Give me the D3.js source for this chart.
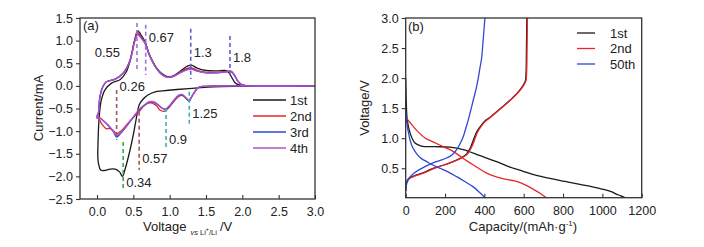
<!DOCTYPE html>
<html><head><meta charset="utf-8">
<script src="https://cdn.jsdelivr.net/npm/d3@7"></script>
<style>
body{margin:0;background:#fff;}
text{font-family:"Liberation Sans",Arial,sans-serif;fill:#222;}
</style></head>
<body><svg id="c" width="704" height="247"></svg>
<script>
// ---------- Panel (a) CV data: [voltage, current] ----------
const cv1Cathodic = [[3.0,0],[2.5,-0.005],[2.0,-0.01],[1.6,-0.02],[1.35,-0.05],[1.1,-0.08],[0.9,-0.11],[0.8,-0.13],[0.7,-0.2],[0.63,-0.3],[0.58,-0.42],[0.55,-0.64],[0.5,-1.08],[0.45,-1.45],[0.39,-1.82],[0.35,-2.0],[0.31,-1.9],[0.25,-1.84],[0.18,-1.84],[0.1,-1.87],[0.05,-1.86],[0.025,-1.75],[0.012,-1.6]];
const cv1Anodic = [[0.012,-1.6],[0.015,-1.2],[0.022,-0.9],[0.035,-0.6],[0.06,-0.31],[0.11,-0.09],[0.2,0.06],[0.32,0.14],[0.4,0.3],[0.46,0.58],[0.52,1.02],[0.56,1.22],[0.6,1.14],[0.66,0.98],[0.72,0.7],[0.82,0.4],[0.9,0.26],[0.98,0.2],[1.05,0.22],[1.15,0.33],[1.25,0.44],[1.3,0.46],[1.37,0.4],[1.5,0.34],[1.65,0.33],[1.76,0.34],[1.8,0.32],[1.85,0.2],[1.9,0.07],[1.96,0.02],[2.1,0.0],[3.0,0.0]];

const cv2Cathodic = [[3.0,0],[2.0,0],[1.5,-0.01],[1.4,-0.03],[1.35,-0.12],[1.3,-0.25],[1.26,-0.32],[1.22,-0.27],[1.17,-0.21],[1.12,-0.24],[1.06,-0.34],[1.0,-0.46],[0.93,-0.56],[0.87,-0.54],[0.82,-0.44],[0.76,-0.38],[0.7,-0.38],[0.64,-0.45],[0.59,-0.55],[0.56,-0.6],[0.5,-0.7],[0.43,-0.82],[0.36,-0.95],[0.31,-1.02],[0.27,-1.06],[0.22,-0.98],[0.17,-0.94],[0.13,-0.95],[0.065,-0.84],[0.02,-0.7],[0.0,-0.68]];
const cv2Anodic = [[0.0,-0.68],[0.02,-0.58],[0.04,-0.24],[0.08,-0.02],[0.13,0.09],[0.25,0.15],[0.36,0.28],[0.45,0.55],[0.52,1.02],[0.56,1.19],[0.6,1.1],[0.66,0.96],[0.72,0.68],[0.82,0.38],[0.9,0.24],[0.98,0.19],[1.05,0.21],[1.15,0.31],[1.25,0.39],[1.3,0.4],[1.37,0.35],[1.5,0.3],[1.65,0.3],[1.78,0.32],[1.84,0.33],[1.89,0.24],[1.94,0.1],[1.99,0.03],[2.08,0.0],[3.0,0.0]];

const cv3Cathodic = [[3.0,0],[2.0,0],[1.5,-0.01],[1.4,-0.03],[1.35,-0.12],[1.3,-0.25],[1.27,-0.34],[1.23,-0.28],[1.17,-0.2],[1.12,-0.22],[1.06,-0.32],[1.0,-0.44],[0.95,-0.52],[0.9,-0.5],[0.84,-0.42],[0.78,-0.36],[0.72,-0.36],[0.66,-0.42],[0.6,-0.5],[0.57,-0.55],[0.52,-0.65],[0.45,-0.8],[0.38,-0.95],[0.32,-1.06],[0.27,-1.13],[0.22,-1.0],[0.15,-0.87],[0.08,-0.76],[0.03,-0.7],[0.0,-0.7]];
const cv3Anodic = [[0.0,-0.7],[0.02,-0.6],[0.04,-0.24],[0.08,-0.02],[0.13,0.09],[0.25,0.15],[0.36,0.28],[0.45,0.54],[0.52,1.0],[0.56,1.15],[0.6,1.08],[0.66,0.95],[0.72,0.68],[0.82,0.38],[0.9,0.24],[0.98,0.19],[1.05,0.21],[1.15,0.3],[1.25,0.37],[1.3,0.38],[1.37,0.33],[1.5,0.29],[1.65,0.29],[1.78,0.31],[1.84,0.32],[1.89,0.24],[1.94,0.1],[1.99,0.03],[2.08,0.0],[3.0,0.0]];

const cv4Cathodic = [[3.0,0],[2.0,0],[1.5,-0.01],[1.4,-0.03],[1.35,-0.11],[1.3,-0.24],[1.27,-0.32],[1.23,-0.27],[1.17,-0.19],[1.12,-0.21],[1.06,-0.31],[1.0,-0.43],[0.95,-0.5],[0.9,-0.49],[0.84,-0.41],[0.78,-0.35],[0.72,-0.35],[0.66,-0.41],[0.6,-0.49],[0.57,-0.54],[0.52,-0.64],[0.45,-0.79],[0.38,-0.94],[0.32,-1.04],[0.27,-1.1],[0.22,-0.99],[0.15,-0.86],[0.08,-0.76],[0.03,-0.7],[0.0,-0.72]];
const cv4Anodic = [[0.0,-0.72],[0.02,-0.62],[0.04,-0.25],[0.08,-0.02],[0.13,0.09],[0.25,0.15],[0.36,0.28],[0.45,0.53],[0.52,0.98],[0.56,1.13],[0.6,1.07],[0.66,0.94],[0.72,0.68],[0.82,0.38],[0.9,0.24],[0.98,0.19],[1.05,0.21],[1.15,0.29],[1.25,0.36],[1.3,0.37],[1.37,0.33],[1.5,0.29],[1.65,0.29],[1.78,0.31],[1.84,0.32],[1.89,0.24],[1.94,0.1],[1.99,0.03],[2.08,0.0],[3.0,0.0]];

const cvLabels = ["1st","2nd","3rd","4th"];
const cvColors = ["#1a1a1a","#e8262a","#2b48d6","#b050c8"];
const cvXTicks = [0,0.5,1.0,1.5,2.0,2.5,3.0];
const cvYTicks = [-2.5,-2.0,-1.5,-1.0,-0.5,0,0.5,1.0,1.5];

// peak annotations: voltage, dashed line current extent, label current, side
const peakV      = [0.55, 0.67, 1.29, 1.83, 0.27, 0.58, 0.36, 0.95, 1.27];
const peakText   = ["0.55","0.67","1.3","1.8","0.26","0.57","0.34","0.9","1.25"];
const peakTop    = [1.39, 1.35, 1.26, 1.1, -0.09, -0.57, -1.24, -0.49, -0.13];
const peakBottom = [0.31, 0.24, 0.15, 0.2, -1.19, -1.86, -2.3, -1.41, -0.86];
const peakLabelI = [0.73, 1.08, 0.73, 0.62, -0.02, -1.61, -2.14, -1.19, -0.62];
const peakColor  = ["#9a74d6","#9a74d6","#5a62cc","#5a62cc","#a4585a","#a4585a","#3aa552","#3ab2b2","#3ab2b2"];
const peakSide   = ["left","right","right","right","right","right","right","right","right"];

// ---------- Panel (b) charge/discharge: [capacity, voltage] ----------
const d1Discharge = [[0,2.0],[3,1.6],[8,1.3],[22,1.09],[47,0.92],[80,0.87],[150,0.86],[225,0.85],[292,0.81],[378,0.71],[462,0.61],[530,0.52],[597,0.45],[665,0.38],[733,0.33],[810,0.28],[886,0.23],[950,0.19],[1003,0.15],[1045,0.11],[1071,0.07],[1095,0.04],[1114,0.01]];
const d1Charge = [[0,0.12],[5,0.28],[20,0.34],[56,0.39],[100,0.44],[139,0.5],[190,0.55],[241,0.61],[280,0.67],[310,0.74],[330,0.85],[344,0.97],[360,1.1],[378,1.19],[400,1.28],[429,1.35],[480,1.49],[530,1.63],[570,1.76],[597,1.88],[608,1.95],[612,2.1],[614,2.5],[616,3.0]];
const d2Discharge = [[0,1.35],[5,1.33],[20,1.27],[56,1.13],[100,1.0],[139,0.94],[190,0.86],[241,0.78],[285,0.68],[327,0.59],[370,0.5],[412,0.42],[450,0.37],[480,0.34],[520,0.31],[564,0.28],[610,0.22],[649,0.15],[685,0.08],[715,0.01]];
const d2Charge = [[0,0.12],[5,0.27],[20,0.33],[56,0.38],[100,0.43],[139,0.49],[190,0.55],[241,0.61],[285,0.67],[315,0.74],[335,0.85],[350,0.97],[365,1.1],[382,1.19],[405,1.28],[432,1.35],[482,1.49],[532,1.63],[572,1.76],[600,1.88],[611,1.95],[615,2.1],[617,2.5],[619,3.0]];
const d50Discharge = [[0,1.45],[3,1.35],[8,1.2],[15,1.08],[22,0.97],[35,0.85],[56,0.74],[80,0.66],[107,0.61],[140,0.55],[175,0.5],[215,0.44],[259,0.36],[300,0.28],[344,0.19],[375,0.1],[403,0.01]];
const d50Charge = [[0,0.12],[5,0.24],[20,0.35],[56,0.45],[100,0.53],[139,0.59],[175,0.63],[208,0.67],[235,0.72],[259,0.81],[278,0.92],[293,1.03],[306,1.17],[318,1.3],[332,1.48],[344,1.64],[358,1.82],[369,2.0],[378,2.18],[386,2.33],[393,2.6],[398,2.8],[403,3.0]];

const gcdLabels = ["1st","2nd","50th"];
const gcdColors = ["#1a1a1a","#e8262a","#2b48d6"];
const gcdXTicks = [0,200,400,600,800,1000,1200];
const gcdYTicks = [0.5,1.0,1.5,2.0,2.5,3.0];

// ---------- drawing ----------
const svg = d3.select("#c");
const axisColor = "#333";

function frame(g, x, y, xTicks, yTicks, fmtX, fmtY){
  const [x0,x1] = x.range(), [y0,y1] = y.range();
  const ax = g.append("g").attr("transform",`translate(0,${y0})`)
    .call(d3.axisBottom(x).tickValues(xTicks).tickFormat(fmtX).tickSizeInner(-4).tickSizeOuter(0).tickPadding(8));
  const ay = g.append("g").attr("transform",`translate(${x0},0)`)
    .call(d3.axisLeft(y).tickValues(yTicks).tickFormat(fmtY).tickSizeInner(4).tickSizeOuter(0).tickPadding(3));
  [ax,ay].forEach(a=>{
    a.selectAll("path,line").attr("stroke",axisColor).attr("stroke-width",1.1);
    a.selectAll("text").attr("font-size",12.5).attr("fill","#222").attr("font-family","Liberation Sans, Arial, sans-serif");
    a.select(".domain").remove();
  });
  g.append("rect").attr("x",x0).attr("y",y1).attr("width",x1-x0).attr("height",y0-y1)
    .attr("fill","none").attr("stroke",axisColor).attr("stroke-width",1.3);
}

// Panel (a)
const xa = d3.scaleLinear().domain([-0.234,3.0]).range([80,315]);
const ya = d3.scaleLinear().domain([-2.5,1.5]).range([199,18]);
const ga = svg.append("g");
svg.append("clipPath").attr("id","clipA").append("rect").attr("x",80).attr("y",18).attr("width",235).attr("height",181);
const lineA = d3.line().x(d=>xa(d[0])).y(d=>ya(d[1])).curve(d3.curveCatmullRom.alpha(0.5));
const cycles = [cv1Cathodic.concat(cv1Anodic.slice(1)), cv2Cathodic.concat(cv2Anodic.slice(1)),
                cv3Cathodic.concat(cv3Anodic.slice(1)), cv4Cathodic.concat(cv4Anodic.slice(1))];
const pa = ga.append("g").attr("clip-path","url(#clipA)");
[0,1,2,3].forEach(i=>{
  pa.append("path").attr("d",lineA(cycles[i])).attr("fill","none")
    .attr("stroke",cvColors[i]).attr("stroke-width",1.3).attr("stroke-linejoin","round");
});
// dashed peak markers
peakV.forEach((v,i)=>{
  ga.append("line").attr("x1",xa(v)).attr("x2",xa(v)).attr("y1",ya(peakTop[i])).attr("y2",ya(peakBottom[i]))
    .attr("stroke",peakColor[i]).attr("stroke-width",1.6).attr("stroke-dasharray","4,3");
  const left = peakSide[i]==="left";
  ga.append("text").attr("x",left? xa(v)-17 : xa(v)+3).attr("y",ya(peakLabelI[i])+4.5)
    .attr("text-anchor",left?"end":"start").attr("font-size",13).text(peakText[i]);
});
frame(ga, xa, ya, cvXTicks, cvYTicks, d3.format(".1f"), d3.format(".1f"));
ga.append("text").attr("x",83).attr("y",30).attr("font-size",13).text("(a)");
// legend a
cvLabels.forEach((l,i)=>{
  const yy = 100 + i*16;
  ga.append("line").attr("x1",253).attr("x2",286).attr("y1",yy).attr("y2",yy).attr("stroke",cvColors[i]).attr("stroke-width",1.3);
  ga.append("text").attr("x",290).attr("y",yy+4.5).attr("font-size",13).text(l);
});
// axis titles a
ga.append("text").attr("transform","translate(43,108) rotate(-90)").attr("text-anchor","middle").attr("font-size",13).text("Current/mA");
const xt = ga.append("text").attr("x",143).attr("y",231).attr("font-size",13).attr("fill","#222");
xt.append("tspan").text("Voltage");
xt.append("tspan").attr("font-size",7.5).attr("dx",4).attr("dy",4).attr("font-style","italic").text("vs");
xt.append("tspan").attr("font-size",7.5).text(" Li");
xt.append("tspan").attr("font-size",5.5).attr("dy",-4).text("+");
xt.append("tspan").attr("font-size",7.5).attr("dy",4).text("/Li");
xt.append("tspan").attr("font-size",13).attr("dx",3).attr("dy",-4).text("/V");

// Panel (b)
const xb = d3.scaleLinear().domain([0,1200]).range([405.7,641.7]);
const yb = d3.scaleLinear().domain([0.01,3.0]).range([197.7,18]);
const gb = svg.append("g");
svg.append("clipPath").attr("id","clipB").append("rect").attr("x",405.7).attr("y",18).attr("width",236).attr("height",179.7);
const lineB = d3.line().x(d=>xb(d[0])).y(d=>yb(d[1])).curve(d3.curveCatmullRom.alpha(0.5));
const pb = gb.append("g").attr("clip-path","url(#clipB)");
const gcdCurves = [[d1Discharge,d1Charge],[d2Discharge,d2Charge],[d50Discharge,d50Charge]];
gcdCurves.forEach((pair,i)=>{
  pair.forEach(arr=>{
    pb.append("path").attr("d",lineB(arr)).attr("fill","none").attr("stroke",gcdColors[i]).attr("stroke-width",1.3);
  });
});
frame(gb, xb, yb, gcdXTicks, gcdYTicks, d3.format("d"), d3.format(".1f"));
gb.append("text").attr("x",408).attr("y",31).attr("font-size",13).text("(b)");
gcdLabels.forEach((l,i)=>{
  const yy = 33 + i*15.5;
  gb.append("line").attr("x1",577).attr("x2",595).attr("y1",yy).attr("y2",yy).attr("stroke",gcdColors[i]).attr("stroke-width",1.3);
  gb.append("text").attr("x",610).attr("y",yy+4.5).attr("font-size",13).text(l);
});
gb.append("text").attr("transform","translate(369,108) rotate(-90)").attr("text-anchor","middle").attr("font-size",13).text("Voltage/V");
const xtb = gb.append("text").attr("x",523).attr("y",231).attr("text-anchor","middle").attr("font-size",13);
xtb.append("tspan").text("Capacity/(mAh·g");
xtb.append("tspan").attr("font-size",8).attr("dy",-5).text("-1");
xtb.append("tspan").attr("dy",5).text(")");
</script></body></html>
